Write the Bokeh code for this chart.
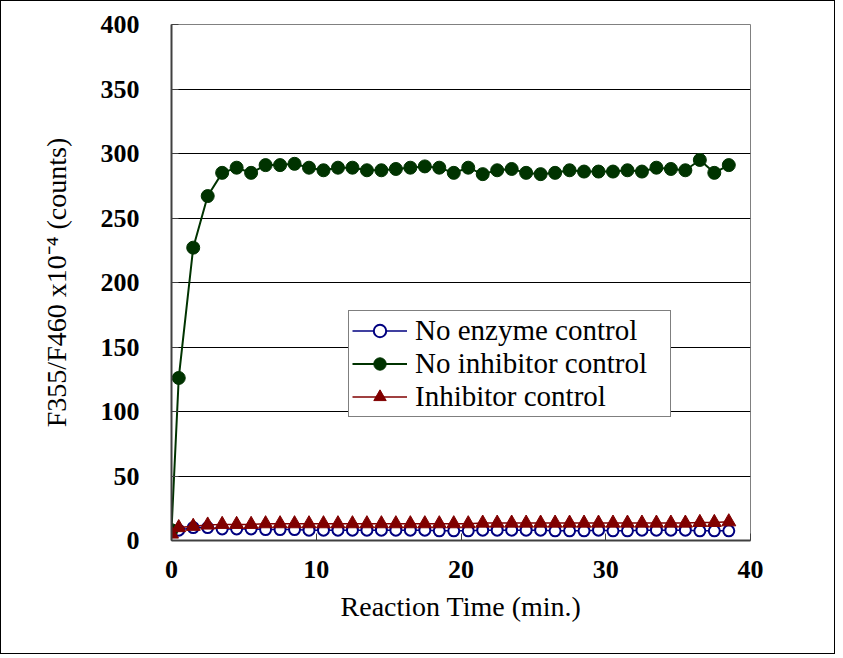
from bokeh.plotting import figure
from bokeh.models import Legend, LegendItem, FixedTicker
from bokeh.embed import file_html
from bokeh.resources import INLINE

times = [0, 0.5, 1.5, 2.5, 3.5, 4.5, 5.5, 6.5, 7.5, 8.5, 9.5, 10.5, 11.5, 12.5, 13.5,
         14.5, 15.5, 16.5, 17.5, 18.5, 19.5, 20.5, 21.5, 22.5, 23.5, 24.5, 25.5, 26.5,
         27.5, 28.5, 29.5, 30.5, 31.5, 32.5, 33.5, 34.5, 35.5, 36.5, 37.5, 38.5]

no_enzyme = [7, 8, 10, 10, 9, 9, 9, 8.5, 8.5, 8.5, 8, 8, 8, 8, 8, 8, 8, 8, 8, 7.5,
             7.5, 7.5, 8, 8, 8, 8, 8, 7.5, 7.5, 7.5, 8, 7.5, 7.5, 8, 8, 8, 8, 7.5, 7.5, 7.5]

no_inhibitor = [8, 126, 227, 267, 285, 289, 285, 291, 291, 292, 289, 287, 289, 289, 287,
                287, 288, 289, 290, 289, 285, 289, 284, 287, 288, 285, 284, 285, 287, 286,
                286, 286, 287, 286, 289, 288, 287, 295, 285, 291]

inhibitor = [5, 10, 11, 12, 12.5, 12.5, 12.5, 13, 13, 13, 13, 13, 13, 13, 13, 13, 13, 13,
             13, 13, 13, 13, 13.5, 13.5, 13.5, 13.5, 13.5, 13.5, 13.5, 13.5, 13.5, 13.5,
             13.5, 13.5, 13.5, 13.5, 13.5, 14, 14, 14.5]

x_ticks = [0, 10, 20, 30, 40]
y_ticks = [0, 50, 100, 150, 200, 250, 300, 350, 400]

FONT = "Liberation Serif"

p = figure(width=835, height=654, x_range=(0, 40), y_range=(0, 400),
           output_backend="svg", toolbar_location=None,
           min_border_left=170, min_border_top=23, min_border_right=86,
           min_border_bottom=115)
p.styles = {"border": "1px solid black"}

p.outline_line_color = "#808080"
p.outline_line_width = 1
p.xgrid.visible = False
p.ygrid.grid_line_color = "black"
p.ygrid.grid_line_width = 1

p.xaxis.ticker = FixedTicker(ticks=x_ticks)
p.yaxis.ticker = FixedTicker(ticks=y_ticks)
p.xaxis.minor_tick_line_color = None
p.yaxis.minor_tick_line_color = None

for ax in (p.xaxis, p.yaxis):
    ax.axis_line_color = "#404040"
    ax.axis_line_width = 2
    ax.major_tick_line_color = "#404040"
    ax.major_tick_in = 7
    ax.major_tick_out = 0
    ax.major_label_text_font = FONT
    ax.major_label_text_font_style = "bold"
    ax.major_label_text_font_size = "26px"
    ax.major_label_text_color = "black"
    ax.axis_label_text_font = FONT
    ax.axis_label_text_font_style = "normal"
    ax.axis_label_text_font_size = "28px"
    ax.axis_label_text_color = "black"

p.yaxis.major_label_standoff = 32
p.xaxis.major_label_standoff = 20
p.xaxis.axis_label = "Reaction Time (min.)"
p.yaxis.axis_label = "F355/F460 x10\u207b\u2074 (counts)"
p.xaxis.axis_label_standoff = 10
p.yaxis.axis_label_standoff = 26

blue = "#000080"
green = "#003300"
red = "#800000"

l1 = p.line(times, no_enzyme, line_color=blue, line_width=1.5)
s1 = p.scatter(times, no_enzyme, marker="circle", size=11, line_color=blue,
               line_width=2, fill_color="white")
l2 = p.line(times, no_inhibitor, line_color=green, line_width=2)
s2 = p.scatter(times, no_inhibitor, marker="circle", size=13, line_color=green,
               fill_color=green)
l3 = p.line(times, inhibitor, line_color=red, line_width=1.5)
s3 = p.scatter(times, inhibitor, marker="triangle", size=14, line_color=red,
               fill_color=red)

legend = Legend(items=[
    LegendItem(label="No enzyme control", renderers=[l1, s1]),
    LegendItem(label="No inhibitor control", renderers=[l2, s2]),
    LegendItem(label="Inhibitor control", renderers=[l3, s3]),
], location=(177, 123))
legend.label_text_font = FONT
legend.label_text_font_size = "29px"
legend.label_text_color = "black"
legend.border_line_color = "black"
legend.border_line_width = 1
legend.background_fill_alpha = 1
legend.background_fill_color = "white"
legend.padding = 3
legend.spacing = 0
legend.margin = 0
legend.glyph_width = 55
legend.glyph_height = 31
legend.label_height = 31
legend.label_width = 252
legend.label_standoff = 8
p.add_layout(legend)

open("out.html", "w").write(file_html(p, INLINE))
